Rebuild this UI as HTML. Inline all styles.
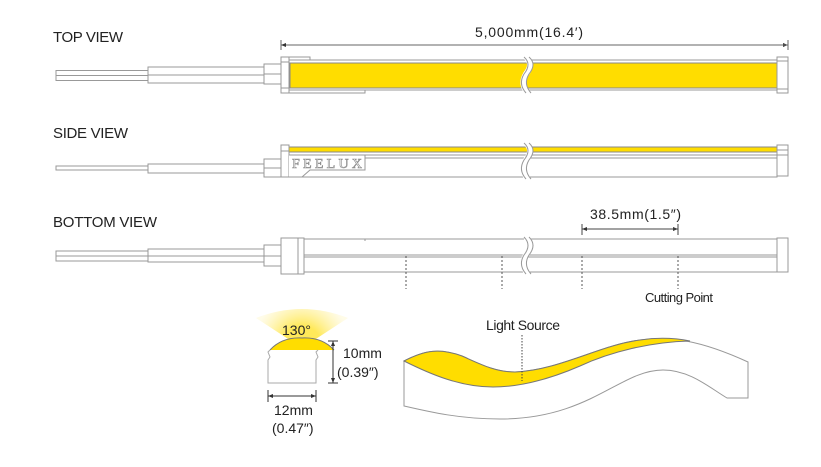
<!DOCTYPE html>
<html><head><meta charset="utf-8"><style>
html,body{margin:0;padding:0;background:#fff;width:821px;height:467px;overflow:hidden}
svg{display:block}
text{font-family:"Liberation Sans",sans-serif;fill:#222}
</style></head><body>
<svg width="821" height="467" viewBox="0 0 821 467" xmlns="http://www.w3.org/2000/svg">
<defs>
<radialGradient id="glow" cx="302" cy="345" r="48" gradientUnits="userSpaceOnUse">
<stop offset="0.4" stop-color="#ffe95a"/><stop offset="1" stop-color="#fff8d0" stop-opacity="0.5"/></radialGradient>
<marker id="ar" markerWidth="6" markerHeight="6" refX="5" refY="3" orient="auto"><path d="M0,1 L5,3 L0,5z" fill="#333"/></marker>
</defs>
<g stroke="#999" stroke-width="1" fill="none">
<!-- TOP VIEW -->
<text x="53" y="42" font-size="15" stroke="none" textLength="70">TOP VIEW</text>
<text x="475" y="37" font-size="14" stroke="none" textLength="108">5,000mm(16.4′)</text>
<line x1="281" y1="45" x2="788" y2="45" stroke="#666" marker-end="url(#ar)"/>
<line x1="788" y1="45" x2="281" y2="45" stroke="#666" marker-end="url(#ar)"/>
<line x1="281" y1="40" x2="281" y2="50" stroke="#666"/><line x1="788" y1="40" x2="788" y2="50" stroke="#666"/>
<rect x="56" y="70.5" width="92" height="5"/><rect x="56" y="75.5" width="92" height="5"/>
<rect x="148" y="67" width="116" height="8"/><rect x="148" y="75" width="116" height="8"/>
<rect x="264" y="64" width="17" height="20" fill="#fff"/><line x1="264" y1="74" x2="281" y2="74"/>
<rect x="289" y="60" width="488" height="30" fill="#fff"/>
<rect x="290" y="63" width="487" height="25" fill="#ffdd00" stroke="#888"/>
<rect x="281" y="57" width="8" height="36" fill="#fff"/><line x1="281" y1="62" x2="289" y2="62"/><line x1="281" y1="88" x2="289" y2="88"/>
<path d="M289 57 H310 V60 M289 93 H365 V90"/>
<rect x="777" y="57" width="11" height="36" fill="#fff"/><line x1="777" y1="61" x2="788" y2="61"/><line x1="777" y1="89" x2="788" y2="89"/>
<path d="M526 57 Q534 64 526 74 Q520 84 528 93" stroke="#fff" stroke-width="6"/>
<path d="M524 57 Q532 64 524 74 Q518 84 526 93 M529 57 Q537 64 529 74 Q523 84 531 93"/>
<!-- SIDE VIEW -->
<text x="53" y="138" font-size="15" stroke="none" textLength="75">SIDE VIEW</text>
<rect x="56" y="166" width="92" height="4"/>
<rect x="148" y="164" width="116" height="9"/>
<rect x="264" y="159" width="17" height="18" fill="#fff"/><line x1="264" y1="168" x2="281" y2="168"/>
<rect x="289" y="147" width="488" height="30" fill="#fff"/>
<rect x="289" y="147" width="488" height="5" fill="#ffdd00" stroke="#888"/>
<line x1="289" y1="155" x2="777" y2="155"/><line x1="289" y1="158" x2="777" y2="158"/>
<path d="M281 145 H289 V177 H281 Z" fill="#fff"/><line x1="281" y1="151" x2="289" y2="151"/>
<path d="M289 155 H365 V170 H310 L302 177 H289" fill="#fff"/>
<text x="292" y="168" font-size="14" stroke="#888" stroke-width="0.6" style="font-family:'Liberation Serif',serif;fill:#fff" textLength="70">FEELUX</text>
<rect x="777" y="145" width="11" height="31" fill="#fff"/><line x1="777" y1="150" x2="788" y2="150"/><line x1="777" y1="155" x2="788" y2="155"/>
<path d="M526 143 Q534 150 526 160 Q520 170 528 179" stroke="#fff" stroke-width="6"/>
<path d="M524 143 Q532 150 524 160 Q518 170 526 179 M529 143 Q537 150 529 160 Q523 170 531 179"/>
<!-- BOTTOM VIEW -->
<text x="53" y="227" font-size="15" stroke="none" textLength="104">BOTTOM VIEW</text>
<rect x="56" y="251" width="92" height="5"/><rect x="56" y="256" width="92" height="5"/>
<rect x="148" y="249" width="116" height="7"/><rect x="148" y="256" width="116" height="6"/>
<rect x="264" y="245" width="17" height="21" fill="#fff"/><line x1="264" y1="256" x2="281" y2="256"/>
<rect x="289" y="239" width="488" height="33" fill="#fff"/>
<line x1="289" y1="255" x2="777" y2="255"/><line x1="289" y1="257" x2="777" y2="257"/>
<path d="M301 239 H365 V241"/>
<rect x="281" y="238" width="23" height="36" fill="#fff"/><line x1="298" y1="238" x2="298" y2="274"/>
<rect x="777" y="238" width="11" height="34" fill="#fff"/>
<path d="M526 237 Q534 245 526 255 Q520 265 528 274" stroke="#fff" stroke-width="6"/>
<path d="M524 237 Q532 245 524 255 Q518 265 526 274 M529 237 Q537 245 529 255 Q523 265 531 274"/>
<g stroke="#555" stroke-dasharray="2,2"><line x1="406" y1="256" x2="406" y2="289"/><line x1="502" y1="256" x2="502" y2="289"/><line x1="582" y1="256" x2="582" y2="289"/><line x1="678" y1="256" x2="678" y2="289"/></g>
<text x="590" y="219" font-size="14" stroke="none" textLength="91">38.5mm(1.5″)</text>
<line x1="582" y1="229" x2="678" y2="229" stroke="#444" marker-end="url(#ar)"/><line x1="678" y1="229" x2="582" y2="229" stroke="#444" marker-end="url(#ar)"/>
<line x1="582" y1="224" x2="582" y2="235" stroke="#444"/><line x1="678" y1="224" x2="678" y2="235" stroke="#444"/>
<text x="645" y="302" font-size="13" stroke="none" textLength="68">Cutting Point</text>
<!-- cross-section -->
<path d="M302 348 L256 318 Q302 300 348 318 Z" fill="url(#glow)" stroke="none"/>
<text x="282" y="335" font-size="14" stroke="none">130°</text>
<path d="M270 350 Q282 337 302 338 Q322 337 334 350" fill="#ffdd00" stroke="#777"/>
<path d="M270 350 L268 352 L270 357 L268 360 V383 H316 V360 L318 357 L316 352 L318 350" stroke="#aaa"/>
<line x1="333" y1="341" x2="333" y2="383" stroke="#333" marker-end="url(#ar)"/><line x1="333" y1="383" x2="333" y2="341" stroke="#333" marker-end="url(#ar)"/>
<line x1="328" y1="341" x2="338" y2="341" stroke="#333"/><line x1="328" y1="383" x2="338" y2="383" stroke="#333"/>
<text x="343" y="358" font-size="14" stroke="none">10mm</text>
<text x="337" y="377" font-size="14" stroke="none">(0.39″)</text>
<line x1="268" y1="396" x2="316" y2="396" stroke="#333" marker-end="url(#ar)"/><line x1="316" y1="396" x2="268" y2="396" stroke="#333" marker-end="url(#ar)"/>
<line x1="268" y1="390" x2="268" y2="402" stroke="#333"/><line x1="316" y1="390" x2="316" y2="402" stroke="#333"/>
<text x="274" y="415" font-size="14" stroke="none">12mm</text>
<text x="272" y="433" font-size="14" stroke="none">(0.47″)</text>
<!-- wave strip -->
<path d="M404 361 C425 350 440 348 462 356 C480 364 495 372 515 372 C560 370 600 345 640 340 C670 336 700 340 748 362 V398 H727 C710 388 690 370 663 370 C620 370 590 419 500 419 C460 419 430 412 404 406 Z" fill="#fff" stroke="#999"/>
<path d="M404 361 C425 350 440 348 462 356 C480 364 495 372 515 372 C560 370 600 345 640 340 C660 337 675 338 690 341 C650 342 610 352 580 366 C550 379 520 387 493 387 C460 387 430 374 404 361 Z" fill="#ffdd00" stroke="#777"/>
<text x="486" y="330" font-size="14" stroke="none" textLength="74">Light Source</text>
<line x1="522" y1="335" x2="522" y2="381" stroke="#444" stroke-dasharray="1.5,1.5"/>
</g>
</svg>
</body></html>
